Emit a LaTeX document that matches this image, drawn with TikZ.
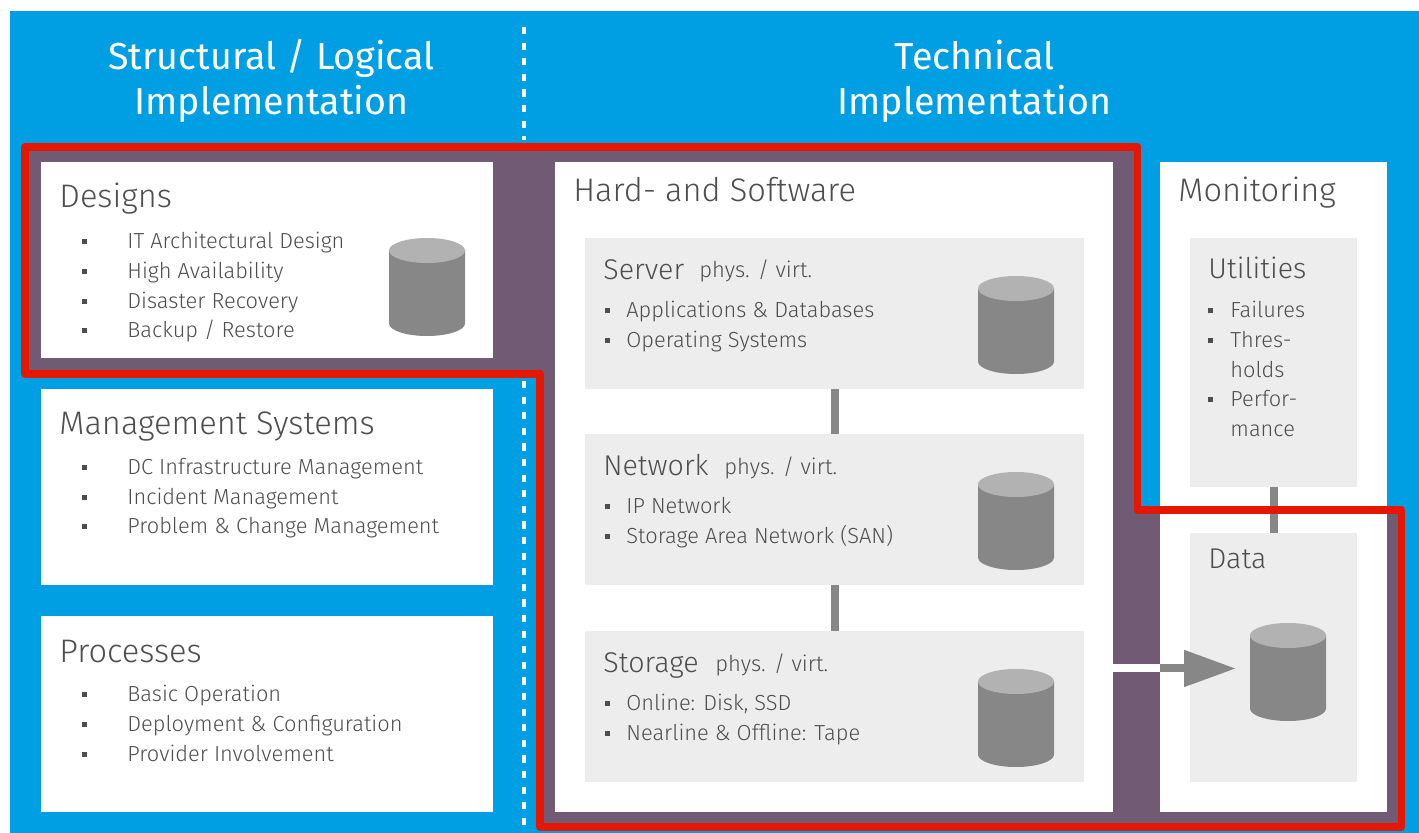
\documentclass[tikz,border=0pt]{standalone}
\usepackage{fontspec}
\setmainfont{Fira Sans Light}
\newfontfamily\headfont{Fira Sans}
\usetikzlibrary{arrows.meta}
\definecolor{bgblue}{HTML}{009FE3}
\definecolor{zonepurple}{HTML}{715A73}
\definecolor{zonered}{HTML}{E61700}
\definecolor{panelgrey}{HTML}{EDEDED}
\definecolor{cylbody}{HTML}{878787}
\definecolor{cyltop}{HTML}{B2B2B2}
\definecolor{textgrey}{HTML}{4E4E4E}
% bullet with a fixed indent
\newlength{\itmwd}
\newcommand{\itm}{\makebox[\itmwd][l]{\rule[2.2pt]{2.5pt}{2.5pt}}}
\tikzset{
  whitebox/.style = {fill=white, inner sep=0, outer sep=0, anchor=north west},
  greybox/.style  = {fill=panelgrey, inner sep=0, outer sep=0, anchor=north west},
  heading/.style  = {text=white, align=center, font=\headfont\fontsize{18.8}{22.5}\selectfont},
  boxtitle/.style = {text=textgrey, inner sep=0, anchor=base west, font=\fontsize{16.3}{18}\selectfont},
  subtitle/.style = {text=textgrey, inner sep=0, anchor=base west, font=\fontsize{14.3}{18}\selectfont},
  phys/.style     = {text=textgrey, inner sep=0, anchor=base west, font=\fontsize{11}{14}\selectfont},
  itemlist/.style = {text=textgrey, inner sep=0, anchor=north west, align=left, font=\fontsize{10.9}{14.8}\selectfont},
  link/.style     = {draw=cylbody, line width=4pt},
  divider/.style  = {white, line width=1.8pt, dash pattern=on 3.6pt off 4.2pt},
  dbcyl/.pic      = {
    \fill[cylbody] (-38,-36.5) -- (-38,36.5) arc[start angle=180, end angle=0, x radius=38, y radius=12.5] -- (38,-36.5) -- cycle;
    \fill[cyltop] (0,-36.5) ellipse[x radius=38, y radius=12.5];
  }
}
\begin{document}
\begin{tikzpicture}[x=0.5pt, y=-0.5pt]
\useasboundingbox (0,0) rectangle (1419,833);
% background
\fill[bgblue] (10,11) rectangle (1419,833);
\fill[zonepurple] (25,147) -- (1137.5,147) -- (1137.5,510) -- (1401.5,510) -- (1401.5,827)
  -- (540,827) -- (540,374) -- (25,374) -- cycle;
% dividers
\draw[divider] (524,27) -- (524,140);
\draw[divider] (524,381) -- (524,832);
% headings
\node[heading] (headleft) at (271.5,81) {Structural / Logical\\Implementation};
\node[heading] (headright) at (974.5,81) {Technical\\Implementation};
% left column
\node[whitebox, minimum width=226pt, minimum height=98pt] (designs) at (41,162) {};
\node[whitebox, minimum width=226pt, minimum height=98pt] (mgmt) at (41,389) {};
\node[whitebox, minimum width=226pt, minimum height=98pt] (procs) at (41,616) {};
\node[boxtitle] (designstitle) at (59,208) {Designs};
\node[boxtitle] (mgmttitle) at (59,435) {Management Systems};
\node[boxtitle] (procstitle) at (59,662) {Processes};
\setlength{\itmwd}{22.5pt}
\node[itemlist] (designsitems) at (82,232) {\itm IT Architectural Design\\\itm High Availability\\\itm Disaster Recovery\\\itm Backup / Restore};
\node[itemlist] (mgmtitems) at (82,458) {\itm DC Infrastructure Management\\\itm Incident Management\\\itm Problem \& Change Management};
\node[itemlist] (procsitems) at (82,685) {\itm Basic Operation\\\itm Deployment \& Configuration\\\itm Provider Involvement};
\pic (designscyl) at (427,287) {dbcyl};
% hard- and software
\node[whitebox, minimum width=279pt, minimum height=325pt] (hard) at (555,162) {};
\node[boxtitle] (hardtitle) at (573,202) {Hard- and Software};
\node[greybox, minimum width=249.5pt, minimum height=75.5pt] (server) at (585,238) {};
\node[greybox, minimum width=249.5pt, minimum height=75.5pt] (network) at (585,434) {};
\node[greybox, minimum width=249.5pt, minimum height=75.5pt] (storage) at (585,631) {};
\node[subtitle] (servertitle) at (603,280) {Server};
\node[phys] (serverphys) at (699,278) {phys. / virt.};
\node[subtitle] (networktitle) at (603,476) {Network};
\node[phys] (networkphys) at (724,475) {phys. / virt.};
\node[subtitle] (storagetitle) at (603,673) {Storage};
\node[phys] (storagephys) at (715,671) {phys. / virt.};
\setlength{\itmwd}{10.5pt}
\node[itemlist] (serveritems) at (605,301) {\itm Applications \& Databases\\\itm Operating Systems};
\node[itemlist] (networkitems) at (605,497) {\itm IP Network\\\itm Storage Area Network (SAN)};
\node[itemlist] (storageitems) at (605,694) {\itm Online: Disk, SSD\\\itm Nearline \& Offline: Tape};
\pic (servercyl) at (1016,325) {dbcyl};
\pic (networkcyl) at (1016,521) {dbcyl};
\pic (storagecyl) at (1016,718) {dbcyl};
\draw[link] (server) -- (network);
\draw[link] (network) -- (storage);
% monitoring
\node[whitebox, minimum width=113.5pt, minimum height=325pt] (monitoring) at (1160,162) {};
\node[boxtitle] (monitoringtitle) at (1178,202) {Monitoring};
\node[greybox, minimum width=83.5pt, minimum height=124.5pt] (utilities) at (1190,238) {};
\node[greybox, minimum width=83.5pt, minimum height=124.5pt] (data) at (1190,533) {};
\node[subtitle] (utilitiestitle) at (1208,279) {Utilities};
\node[subtitle] (datatitle) at (1208,569) {Data};
\setlength{\itmwd}{11pt}
\node[itemlist] (utilitiesitems) at (1208,301) {\itm Failures\\\itm Thres-\\\hspace{\itmwd}holds\\\itm Perfor-\\\hspace{\itmwd}mance};
\pic (datacyl) at (1288,672) {dbcyl};
\draw[link] (utilities) -- (data);
% backup arrow
\coordinate (arrowstart) at (1113,668.5);
\coordinate (arrowmid) at (1160,668.5);
\coordinate (arrowtip) at (1236,668.5);
\draw[white, line width=4pt] (arrowstart) -- (arrowmid);
\draw[link, -{Triangle[length=26pt, width=17.5pt]}] (arrowmid) -- (arrowtip);
% red zone
\draw[zonered, line width=3.8pt, line join=round] (25,147) -- (1137.5,147) -- (1137.5,510) -- (1401.5,510) -- (1401.5,827)
  -- (540,827) -- (540,374) -- (25,374) -- cycle;
\end{tikzpicture}
\end{document}
